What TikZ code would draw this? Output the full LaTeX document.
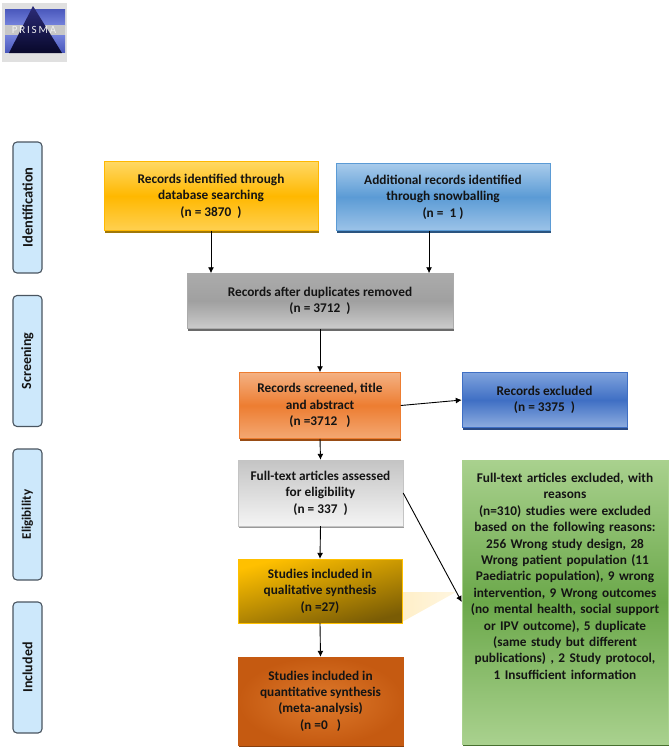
\documentclass[tikz,border=0pt]{standalone}
\usepackage{fontspec}
\setmainfont{Carlito}
\usetikzlibrary{arrows.meta,shadows,calc}
\definecolor{txt}{HTML}{141414}
\definecolor{stagefill}{HTML}{CDE8FB}
\definecolor{stageline}{HTML}{4A5560}
\definecolor{yelA}{HTML}{FFD864}\definecolor{yelB}{HTML}{FFB800}\definecolor{yelC}{HTML}{FFD050}\definecolor{yelS}{HTML}{A07808}
\definecolor{bluA}{HTML}{A8CBEB}\definecolor{bluB}{HTML}{5B9BD5}\definecolor{bluC}{HTML}{9CC3E8}\definecolor{bluS}{HTML}{2A5480}
\definecolor{gryA}{HTML}{ABABAB}\definecolor{gryB}{HTML}{A0A0A0}\definecolor{gryC}{HTML}{CBCBCB}\definecolor{gryS}{HTML}{6A6A6A}
\definecolor{orgA}{HTML}{F4B183}\definecolor{orgB}{HTML}{ED7D31}\definecolor{orgC}{HTML}{F4A873}\definecolor{orgS}{HTML}{984C14}
\definecolor{excA}{HTML}{7FA3DD}\definecolor{excB}{HTML}{3F6FC4}\definecolor{excC}{HTML}{8EADE0}\definecolor{excS}{HTML}{2A4A84}
\definecolor{fulA}{HTML}{C4C4C4}\definecolor{fulC}{HTML}{F4F4F4}\definecolor{fulS}{HTML}{9A9A9A}
\definecolor{grnA}{HTML}{A9D18E}\definecolor{grnB}{HTML}{6BA84A}\definecolor{grnC}{HTML}{A9D18E}\definecolor{grnS}{HTML}{47702F}
\definecolor{qalA}{HTML}{FFC000}\definecolor{qalC}{HTML}{7A5C05}
\definecolor{qntA}{HTML}{DE7A2C}\definecolor{qntC}{HTML}{C55A11}\definecolor{qntS}{HTML}{8A3F0C}
\definecolor{wedA}{HTML}{FFEFC8}\definecolor{wedC}{HTML}{FFF6E0}
\definecolor{logoA}{HTML}{4A58BC}\definecolor{logoB}{HTML}{7482DC}\definecolor{logoC}{HTML}{2C2C78}\definecolor{logoD}{HTML}{08082A}
\tikzset{
  x=1pt,y=-1pt,
  box/.style={rectangle,align=center,inner sep=0pt,text=txt,
    font=\fontsize{13.3}{16.4}\selectfont\bfseries},
  dims/.style 2 args={minimum width=#1,minimum height=#2},
  shad/.style={general shadow={shadow xshift=0.7pt,shadow yshift=-2.2pt,fill=#1}},
  stage/.style={rectangle,rounded corners=4pt,draw=stageline,line width=1.1pt,fill=stagefill,
    rotate=90,minimum width=131,minimum height=29,inner sep=0pt,text=txt,
    font=\fontsize{#1}{16}\selectfont\bfseries},
  flow/.style={draw=black,line width=0.9pt,-{Latex[length=6pt,width=6pt]}},
}
\begin{document}
\begin{tikzpicture}
\useasboundingbox (0,0) rectangle (671,750);
% logo
\fill[black!12] (2,3) rectangle (67,62);
\shade[top color=logoA,bottom color=logoB] (5,9) rectangle (65,25);
\shade[top color=logoB,bottom color=logoA] (5,35) rectangle (65,52);
\fill[black!22] (5,25) rectangle (65,35);
\shade[top color=logoC,bottom color=logoD] (33,6) -- (62,53) -- (9,53) -- cycle;
\node[inner sep=0pt,text=white!88!gray,font=\fontsize{11}{12}\selectfont] (logotext) at (34,30) {P\,R\,I\,S\,M\,A};
% stages
\node[stage=14.5] (s1) at (27.5,207.5) {Identification};
\node[stage=14] (s2) at (27.5,361) {Screening};
\node[stage=13] (s3) at (27.5,514.5) {Eligibility};
\node[stage=14] (s4) at (27.5,667.5) {Included};
% wedge
\coordinate (w1) at (402,592);
\coordinate (w2) at (456,592);
\coordinate (w3) at (402,622);
\shade[left color=wedA,right color=wedC] (w1) -- (w2) -- (w3) -- cycle;
% boxes
\node[box,dims={214}{69},shad=yelS,top color=yelA,bottom color=yelC,middle color=yelB,draw=yelB,line width=.5pt] (yel) at (211,196)
 {Records identified through\\database searching\\(n = 3870~~)};
\node[box,dims={214}{67},shad=bluS,top color=bluA,bottom color=bluC,middle color=bluB,draw=bluB,line width=.5pt] (blu) at (443,197)
 {Additional records identified\\through snowballing\\(n =~~1 )};
\node[box,dims={266}{55},shad=gryS,top color=gryA,bottom color=gryC,middle color=gryB,draw=gryA,line width=.5pt] (gry) at (320,301)
 {Records after duplicates removed\\(n = 3712~~)};
\node[box,dims={161}{66},shad=orgS,top color=orgA,bottom color=orgC,middle color=orgB,draw=orgB,line width=.5pt] (org) at (320,405.5)
 {Records screened, title\\and abstract\\(n =3712~~~)};
\node[box,dims={165}{55},shad=excS,top color=excA,bottom color=excC,middle color=excB,draw=excB,line width=.5pt] (exc) at (544.5,400)
 {Records excluded\\(n = 3375~~)};
\node[box,dims={165}{66},shad=fulS,top color=fulA,bottom color=fulC,draw=fulA,line width=.4pt] (ful) at (320.5,493)
 {Full-text articles assessed\\for eligibility\\(n = 337~~)};
\node[box,dims={206}{284},shad=grnS,top color=grnA,bottom color=grnC,middle color=grnB,draw=grnA,line width=.5pt] (grn) at (565,602) {};
\node[box,anchor=north,text width=204] (grntext) at (565,473)
 {Full-text articles excluded, with\\reasons\\(n=310) studies were excluded\\based on the following reasons:\\256 Wrong study design, 28\\Wrong patient population (11\\Paediatric population), 9 wrong\\intervention, 9 Wrong outcomes\\(no mental health, social support\\or IPV outcome), 5 duplicate\\(same study but different\\publications) , 2 Study protocol,\\1 Insufficient information};
\node[box,dims={164}{64},shade,top color=qalA,bottom color=qalC,shading angle=15,draw=qalA,line width=.3pt] (qal) at (320,591)
 {Studies included in\\qualitative synthesis\\(n =27)};
\node[box,dims={165}{88},shad=qntS,shade,inner color=qntA,outer color=qntC,draw=qntC,line width=.4pt] (qnt) at (320.5,701)
 {Studies included in\\quantitative synthesis\\(meta-analysis)\\(n =0~~~)};
% connectors
\coordinate (bluout) at ($(blu.south west)!0.435!(blu.south east)$);
\draw[flow] (yel.south) -- (yel.south |- gry.north);
\draw[flow] (bluout) -- (bluout |- gry.north);
\draw[flow] (gry.south) -- (org.north);
\draw[flow] (org.east) -- (exc.west);
\draw[flow] (org.south) -- (ful.north);
\draw[flow] (ful.east) -- (grn.west);
\draw[flow] (ful.south) -- (qal.north);
\draw[flow] (qal.south) -- (qnt.north);
\end{tikzpicture}
\end{document}
